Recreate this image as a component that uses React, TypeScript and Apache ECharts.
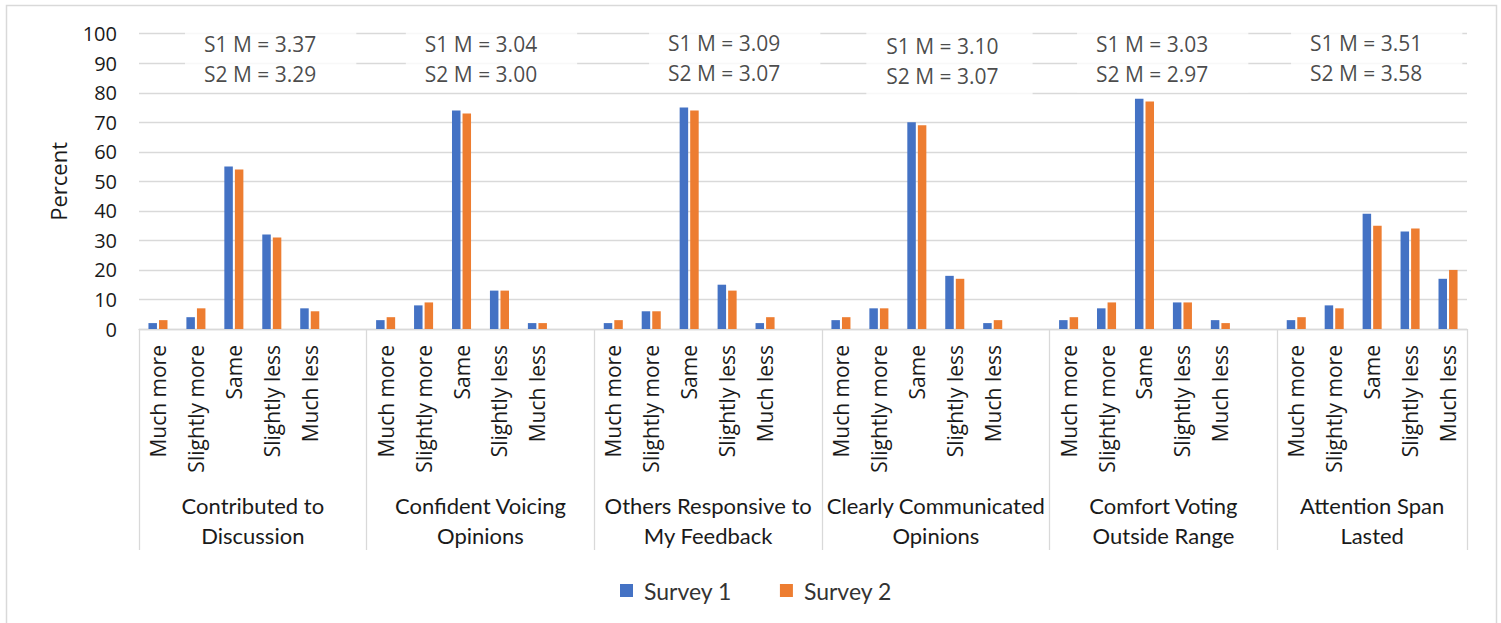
import React, { useEffect, useRef } from "react";
import * as echarts from "echarts";

// Response options shown under every question group
const responses = ["Much more", "Slightly more", "Same", "Slightly less", "Much less"];

// Question groups (line break where the label wraps)
const groups = [
  "Contributed to\nDiscussion",
  "Confident Voicing\nOpinions",
  "Others Responsive to\nMy Feedback",
  "Clearly Communicated\nOpinions",
  "Comfort Voting\nOutside Range",
  "Attention Span\nLasted",
];

// Percent of respondents per response, one row per group
const survey1 = [
  [2, 4, 55, 32, 7],
  [3, 8, 74, 13, 2],
  [2, 6, 75, 15, 2],
  [3, 7, 70, 18, 2],
  [3, 7, 78, 9, 3],
  [3, 8, 39, 33, 17],
];
const survey2 = [
  [3, 7, 54, 31, 6],
  [4, 9, 73, 13, 2],
  [3, 6, 74, 13, 4],
  [4, 7, 69, 17, 3],
  [4, 9, 77, 9, 2],
  [4, 7, 35, 34, 20],
];

// Mean scores per group
const meanS1 = ["3.37", "3.04", "3.09", "3.10", "3.03", "3.51"];
const meanS2 = ["3.29", "3.00", "3.07", "3.07", "2.97", "3.58"];

// Y axis ticks
const yMin = 0;
const yMax = 100;
const yStep = 10;

// Where each mean-score box sits (x in category slots, y in percent)
const noteAnchorX = [3.47, 9.29, 15.7, 21.36, 26.98, 32.62];
const noteAnchorY = [91.6, 91.5, 91.9, 90.6, 91.3, 91.8];

const TEXT = "#1a1a1a";
const GRID = "#d9d9d9";
const SANS = "'Open Sans', 'DejaVu Sans', sans-serif";
const HUMANIST = "Lato, 'Open Sans', sans-serif";

function buildSlots() {
  const labels: string[] = [];
  const s1: (number | string)[] = [];
  const s2: (number | string)[] = [];
  const starts: number[] = [];
  const centers: number[] = [];
  groups.forEach((_, g) => {
    const start = labels.length;
    starts.push(start);
    responses.forEach((r, i) => {
      labels.push(r);
      s1.push(survey1[g][i]);
      s2.push(survey2[g][i]);
    });
    if (g < groups.length - 1) {
      // spacer slot between groups
      labels.push("");
      s1.push("-");
      s2.push("-");
    }
    const span = labels.length - start;
    centers.push(start + span / 2);
  });
  const bounds = [...starts, labels.length];
  return { labels, s1, s2, bounds, centers, total: labels.length };
}

export default function App() {
  const ref = useRef<HTMLDivElement>(null);

  useEffect(() => {
    if (!ref.current) return;
    const chart = echarts.init(ref.current, null, { renderer: "svg" });
    const { labels, s1, s2, bounds, centers, total } = buildSlots();

    const notes = groups.map((_, g) => ({
      value: [noteAnchorX[g], noteAnchorY[g]],
      label: {
        padding: g === 3 ? [7, 34, 7, 20] : [3, 40, 3, 19],
      },
    }));

    chart.setOption({
      animation: false,
      backgroundColor: "#ffffff",
      textStyle: { fontFamily: SANS },
      grid: { left: 139, right: 34, top: 33.7, bottom: 294, containLabel: false },
      graphic: [
        {
          type: "rect",
          shape: { x: 6.5, y: 5.5, width: 1490, height: 660 },
          style: { fill: "none", stroke: GRID, lineWidth: 1.5 },
          silent: true,
          z: -10,
        },
      ],
      legend: {
        data: ["Survey 1", "Survey 2"],
        left: 615,
        top: 574,
        itemWidth: 13,
        itemHeight: 13,
        itemGap: 48,
        icon: "rect",
        textStyle: {
          fontFamily: HUMANIST,
          fontSize: 23,
          color: "#333333",
          padding: [0, 0, 0, 6],
        },
      },
      xAxis: [
        {
          type: "category",
          data: labels,
          position: "bottom",
          axisLine: { show: true, lineStyle: { color: GRID, width: 1.3 } },
          axisTick: { show: false },
          splitLine: { show: false },
          axisLabel: {
            interval: 0,
            rotate: 90,
            margin: 16,
            fontFamily: SANS,
            fontSize: 21,
            color: TEXT,
          },
        },
        {
          type: "value",
          min: 0,
          max: total,
          position: "bottom",
          axisLine: { show: false },
          splitLine: { show: false },
          axisTick: {
            show: true,
            customValues: bounds,
            length: 221,
            lineStyle: { color: GRID, width: 1.3 },
          },
          axisLabel: {
            customValues: centers,
            margin: 161,
            fontFamily: HUMANIST,
            fontSize: 22,
            lineHeight: 30,
            color: TEXT,
            formatter: (v: number) => {
              const i = centers.findIndex((c) => Math.abs(c - v) < 1e-6);
              return i >= 0 ? groups[i] : "";
            },
          },
        },
      ],
      yAxis: {
        type: "value",
        min: yMin,
        max: yMax,
        interval: yStep,
        name: "Percent",
        nameLocation: "middle",
        nameGap: 70,
        nameTextStyle: { fontFamily: SANS, fontSize: 22, color: TEXT },
        axisLine: { show: false },
        axisTick: { show: false },
        axisLabel: { margin: 22, fontFamily: SANS, fontSize: 20, color: TEXT },
        splitLine: { lineStyle: { color: GRID, width: 1.3 } },
      },
      series: [
        {
          name: "Survey 1",
          type: "bar",
          data: s1,
          barWidth: 8.5,
          barGap: "24%",
          itemStyle: { color: "#4472C4" },
        },
        {
          name: "Survey 2",
          type: "bar",
          data: s2,
          barWidth: 8.5,
          barGap: "24%",
          itemStyle: { color: "#ED7D31" },
        },
        {
          name: "means",
          type: "scatter",
          xAxisIndex: 1,
          yAxisIndex: 0,
          symbolSize: 1,
          itemStyle: { color: "rgba(0,0,0,0)" },
          z: 5,
          silent: true,
          data: notes,
          label: {
            show: true,
            position: "inside",
            backgroundColor: "#ffffff",
            fontFamily: SANS,
            fontSize: 21,
            lineHeight: 30,
            color: TEXT,
            align: "center",
            formatter: (p: any) =>
              `S1 M = ${meanS1[p.dataIndex]}\nS2 M = ${meanS2[p.dataIndex]}`,
          },
        },
      ],
    });

    return () => chart.dispose();
  }, []);

  return (
    <div
      ref={ref}
      style={{ position: "fixed", left: 0, top: 0, width: "1501px", height: "623px" }}
    />
  );
}
